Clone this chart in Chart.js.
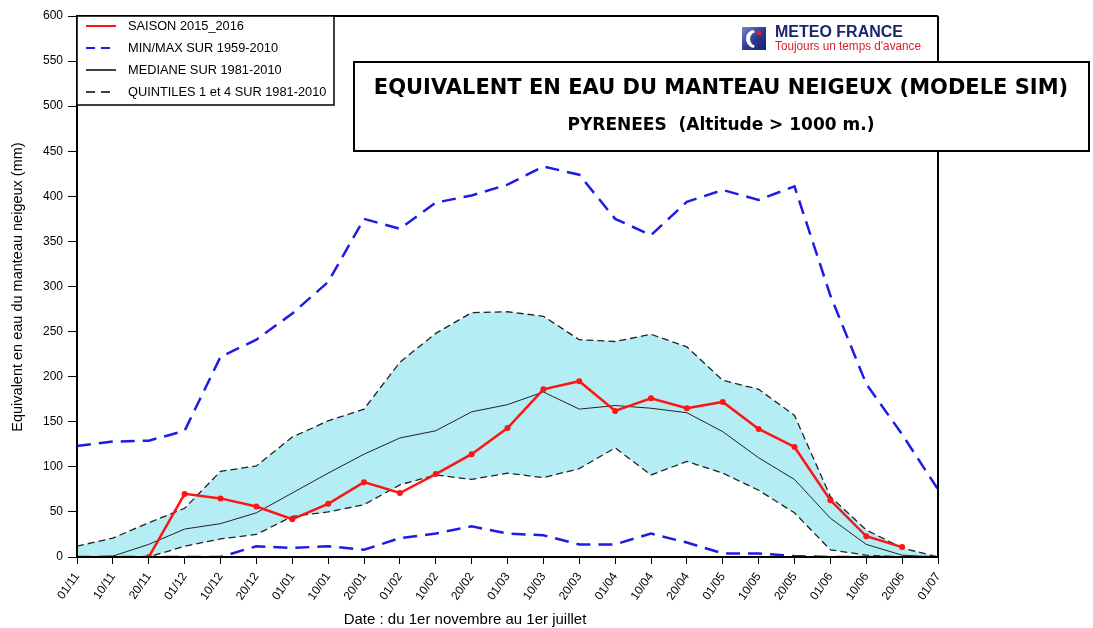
<!DOCTYPE html>
<html>
<head>
<meta charset="utf-8">
<script src="https://cdn.jsdelivr.net/npm/chart.js@4.4.1/dist/chart.umd.min.js"></script>
<style>
  html, body { margin: 0; padding: 0; background: #fff; }
  #wrap { width: 1093px; height: 628px; position: relative; }
</style>
</head>
<body>
<div id="wrap"><canvas id="c" width="1093" height="628"></canvas></div>
<script>
const categories = ['01/11','10/11','20/11','01/12','10/12','20/12','01/01','10/01','20/01','01/02','10/02','20/02','01/03','10/03','20/03','01/04','10/04','20/04','01/05','10/05','20/05','01/06','10/06','20/06','01/07'];
const season = [null,null,0,70,65,56,42,59,83,71,92,114,143,186,195,162,176,165,172,142,122,63,23,11,null];
const maxVals = [123,128,129,140,222,241,270,305,375,364,393,401,413,433,424,375,357,394,407,396,411,290,192,136,75];
const minVals = [0,0,0,0,0,12,10,12,8,21,26,34,26,24,14,14,26,16,4,4,1,0,0,0,0];
const median = [0,1,14,31,37,49,71,93,114,132,140,161,169,183,164,168,165,160,139,110,86,43,14,2,0];
const quint1 = [0,0,0,12,20,25,45,50,58,80,91,86,93,88,98,121,91,106,93,74,49,8,2,0,0];
const quint4 = [12,21,38,54,95,101,133,151,164,216,248,271,272,267,241,239,247,233,196,186,157,67,30,10,0];
const yTicks = [0,50,100,150,200,250,300,350,400,450,500,550,600];
const legendLabels = ['SAISON 2015_2016','MIN/MAX SUR 1959-2010','MEDIANE SUR 1981-2010','QUINTILES 1 et 4 SUR 1981-2010'];

const FONT = '"Liberation Sans", Arial, sans-serif';
const BLUE = 'rgb(28,28,230)';
const RED = 'rgb(255,20,20)';
const FILL = 'rgb(180,238,244)';

const framePlugin = {
  id: 'frame',
  afterDatasetsDraw(chart) {
    const {ctx, chartArea: a} = chart;
    ctx.save();
    ctx.strokeStyle = '#000';
    ctx.lineWidth = 2;
    ctx.beginPath();
    ctx.moveTo(a.left, a.top); ctx.lineTo(a.right, a.top);
    ctx.moveTo(a.right, a.top); ctx.lineTo(a.right, a.bottom);
    ctx.moveTo(a.left, a.top); ctx.lineTo(a.left, a.bottom);
    ctx.moveTo(a.left, a.bottom); ctx.lineTo(a.right, a.bottom);
    ctx.stroke();
    ctx.restore();
  },
  afterDraw(chart) {
    const {ctx, chartArea: a} = chart;
    ctx.save();
    // Legend box
    ctx.fillStyle = '#fff';
    ctx.fillRect(a.left, a.top, 257, 89);
    ctx.strokeStyle = '#000';
    ctx.lineWidth = 1.5;
    ctx.strokeRect(a.left, a.top, 257, 89);
    const styles = [
      {c: RED, w: 2, d: []},
      {c: BLUE, w: 2, d: [9, 6]},
      {c: '#000', w: 1.5, d: []},
      {c: '#000', w: 1.5, d: [9, 6]}
    ];
    ctx.font = '12.8px ' + FONT;
    ctx.textBaseline = 'middle';
    legendLabels.forEach((lab, i) => {
      const y = a.top + 10 + i * 22;
      const s = styles[i];
      ctx.strokeStyle = s.c; ctx.lineWidth = s.w; ctx.setLineDash(s.d);
      ctx.beginPath(); ctx.moveTo(a.left + 9, y); ctx.lineTo(a.left + 39, y); ctx.stroke();
      ctx.setLineDash([]);
      ctx.fillStyle = '#000';
      ctx.fillText(lab, a.left + 51, y + 0.5);
    });
    // Title box
    ctx.fillStyle = '#fff';
    ctx.fillRect(354, 62, 735, 89);
    ctx.strokeStyle = '#000';
    ctx.lineWidth = 2;
    ctx.strokeRect(354, 62, 735, 89);
    ctx.fillStyle = '#000';
    ctx.textAlign = 'center';
    ctx.font = 'bold 21px "DejaVu Sans", sans-serif';
    ctx.fillText('EQUIVALENT EN EAU DU MANTEAU NEIGEUX (MODELE SIM)', 721, 89, 712);
    ctx.font = 'bold 17px "DejaVu Sans", sans-serif';
    ctx.fillText('PYRENEES  (Altitude > 1000 m.)', 721, 126, 318);
    // Logo
    const lx = 742, ly = 27;
    const g = ctx.createLinearGradient(lx, ly, lx + 24, ly + 24);
    g.addColorStop(0, '#7a86c8'); g.addColorStop(0.5, '#2c3a94'); g.addColorStop(1, '#141f6a');
    ctx.fillStyle = g;
    ctx.fillRect(lx, ly, 24, 23);
    ctx.fillStyle = '#fff';
    ctx.beginPath(); ctx.arc(lx + 13, ly + 12, 9, Math.PI * 0.55, Math.PI * 1.45); ctx.arc(lx + 15, ly + 12, 7, Math.PI * 1.4, Math.PI * 0.6, true); ctx.closePath(); ctx.fill();
    ctx.fillStyle = '#e02020';
    ctx.beginPath(); ctx.arc(lx + 17, ly + 6, 2.5, 0, Math.PI * 2); ctx.fill();
    ctx.textAlign = 'left';
    ctx.fillStyle = '#1c2470';
    ctx.font = 'bold 16px ' + FONT;
    ctx.fillText('METEO FRANCE', 775, 33, 146);
    ctx.fillStyle = '#d8202a';
    ctx.font = '12px ' + FONT;
    ctx.fillText("Toujours un temps d'avance", 775, 47, 146);
    // Axis titles
    ctx.fillStyle = '#000';
    ctx.font = '15px ' + FONT;
    ctx.textAlign = 'center';
    ctx.fillText('Date : du 1er novembre au 1er juillet', 465, 620);
    ctx.translate(18, 287);
    ctx.rotate(-Math.PI / 2);
    ctx.font = '14.5px ' + FONT;
    ctx.fillText('Equivalent en eau du manteau neigeux (mm)', 0, 0);
    ctx.restore();
  }
};

new Chart(document.getElementById('c'), {
  type: 'line',
  data: {
    labels: categories,
    datasets: [
      { label: legendLabels[0], data: season, borderColor: RED, backgroundColor: RED, borderWidth: 2.5, pointRadius: 3, pointBackgroundColor: RED, pointBorderWidth: 0, tension: 0, fill: false, spanGaps: false, order: 0 },
      { label: 'max', data: maxVals, borderColor: BLUE, borderWidth: 2.5, borderDash: [14, 8], pointRadius: 0, tension: 0, fill: false, order: 1 },
      { label: 'min', data: minVals, borderColor: BLUE, borderWidth: 2.5, borderDash: [14, 8], pointRadius: 0, tension: 0, fill: false, order: 2 },
      { label: 'median', data: median, borderColor: '#222', borderWidth: 1, pointRadius: 0, tension: 0, fill: false, order: 3 },
      { label: 'q1', data: quint1, borderColor: '#222', borderWidth: 1.3, borderDash: [7, 4], pointRadius: 0, tension: 0, fill: false, order: 4 },
      { label: 'q4', data: quint4, borderColor: '#222', borderWidth: 1.3, borderDash: [7, 4], pointRadius: 0, tension: 0, fill: '-1', backgroundColor: FILL, order: 5 }
    ]
  },
  options: {
    responsive: false,
    animation: false,
    devicePixelRatio: 1,
    layout: { padding: { left: 0, top: 16, right: 155, bottom: 0 } },
    plugins: {
      legend: { display: false },
      tooltip: { enabled: false },
      filler: { drawTime: 'beforeDatasetsDraw' }
    },
    scales: {
      x: {
        type: 'category',
        offset: false,
        afterFit(s) { s.height = 71; },
        grid: { drawOnChartArea: false, drawTicks: true, tickLength: 7, color: '#000', lineWidth: 1 },
        border: { display: true, color: '#000', width: 2 },
        ticks: { color: '#000', font: { family: FONT, size: 12 }, minRotation: 55, maxRotation: 55, autoSkip: false, padding: 6 }
      },
      y: {
        min: 0, max: 600,
        afterFit(s) { s.width = 77; },
        afterBuildTicks(s) { s.ticks = yTicks.map(v => ({ value: v })); },
        grid: { drawOnChartArea: false, drawTicks: true, tickLength: 9, color: '#000', lineWidth: 1 },
        border: { display: true, color: '#000', width: 2 },
        ticks: { color: '#000', font: { family: FONT, size: 12 }, padding: 5 }
      }
    }
  },
  plugins: [framePlugin]
});
</script>
</body>
</html>
